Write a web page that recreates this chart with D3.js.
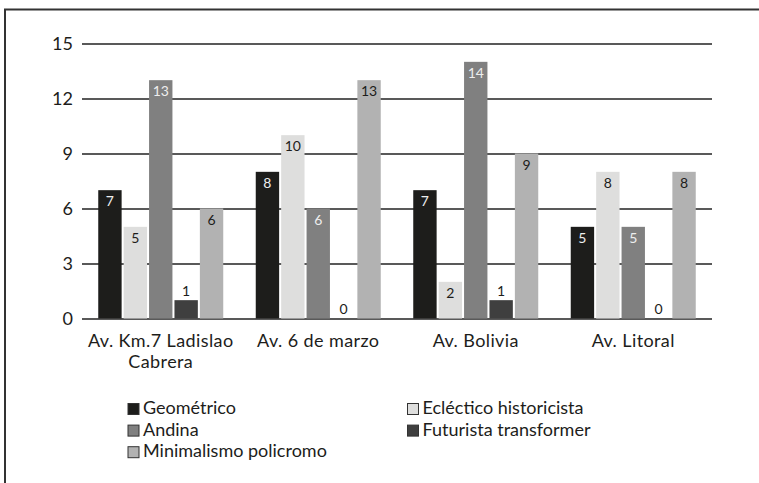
<!DOCTYPE html>
<meta charset="utf-8">
<style>
  body { margin: 0; background: #fff; }
  svg text { font-family: 'Lato', sans-serif; fill: #1d1d1b; }
</style>
<body>
<div id="viz"></div>
<script src="https://cdn.jsdelivr.net/npm/d3@7"></script>
<script>
// data
const categories = ["Av. Km.7 Ladislao Cabrera", "Av. 6 de marzo", "Av. Bolivia", "Av. Litoral"];
const seriesNames = ["Geométrico", "Ecléctico historicista", "Andina", "Futurista transformer", "Minimalismo policromo"];
const geometrico = [7, 8, 7, 5];
const eclectico = [5, 10, 2, 8];
const andina = [13, 6, 14, 5];
const futurista = [1, 0, 1, 0];
const minimalismo = [6, 13, 9, 8];
const yTicks = [0, 3, 6, 9, 12, 15];

const seriesValues = [geometrico, eclectico, andina, futurista, minimalismo];
const colors = ["#1d1d1b", "#dededd", "#808080", "#3f3f3f", "#b2b2b2"];
const labelColors = ["#eeeeee", "#1d1d1b", "#eeeeee", "#1d1d1b", "#1d1d1b"];

const W = 759, H = 483;
const margin = {top: 43.5, left: 82, right: 47, bottom: 164.5};

const svg = d3.select("#viz").append("svg")
    .attr("width", W)
    .attr("height", H);

// frame (only top and left edges fall inside the picture)
svg.append("rect")
    .attr("x", 5).attr("y", 9.5)
    .attr("width", W + 20).attr("height", H + 20)
    .attr("fill", "none")
    .attr("stroke", "#333")
    .attr("stroke-width", 2);

const x0 = d3.scaleBand()
    .domain(categories)
    .range([margin.left, W - margin.right]);

const groupW = 125;
const x1 = d3.scaleBand()
    .domain(seriesNames)
    .range([(x0.bandwidth() - groupW) / 2, (x0.bandwidth() + groupW) / 2])
    .paddingInner(0.08);

const y = d3.scaleLinear()
    .domain([0, 15])
    .range([H - margin.bottom, margin.top]);

// gridlines + tick labels
const yAxis = svg.append("g")
    .attr("transform", "translate(" + margin.left + ",0)")
    .call(d3.axisLeft(y).tickValues(yTicks).tickSize(-(W - margin.left - margin.right)).tickPadding(9));
yAxis.select(".domain").remove();
yAxis.selectAll(".tick line").attr("stroke", "#222").attr("stroke-width", 1.3);
yAxis.selectAll(".tick text")
    .style("font-size", "18px")
    .attr("fill", "#1d1d1b");

const rows = categories.map((c, i) => ({cat: c, vals: seriesNames.map((s, j) => ({s: s, j: j, v: seriesValues[j][i]}))}));

const groups = svg.selectAll(".grp")
    .data(rows)
    .enter().append("g")
    .attr("class", "grp")
    .attr("transform", d => "translate(" + x0(d.cat) + ",0)");

groups.selectAll("rect")
    .data(d => d.vals)
    .enter().append("rect")
    .attr("x", d => x1(d.s))
    .attr("y", d => y(d.v))
    .attr("width", x1.bandwidth())
    .attr("height", d => y(0) - y(d.v))
    .attr("fill", d => colors[d.j]);

// value labels: inside top of bar, except Futurista which sits above it
groups.selectAll(".val")
    .data(d => d.vals)
    .enter().append("text")
    .attr("class", "val")
    .attr("x", d => x1(d.s) + x1.bandwidth() / 2)
    .attr("y", d => d.j === 3 ? y(d.v) - 4.5 : y(d.v) + 16)
    .attr("text-anchor", "middle")
    .style("font-size", "14px")
    .style("fill", d => labelColors[d.j])
    .text(d => d.v);

// category labels, wrapped
const catLines = {"Av. Km.7 Ladislao Cabrera": ["Av. Km.7 Ladislao", "Cabrera"]};
const catText = svg.selectAll(".cat")
    .data(categories)
    .enter().append("text")
    .attr("class", "cat")
    .attr("text-anchor", "middle")
    .attr("x", d => x0(d) + x0.bandwidth() / 2)
    .attr("y", y(0) + 28)
    .style("font-size", "18px")
    .style("letter-spacing", "0.4px");
catText.each(function(d) {
  const lines = catLines[d] || [d];
  const t = d3.select(this);
  lines.forEach((l, i) => {
    t.append("tspan")
      .attr("x", x0(d) + x0.bandwidth() / 2)
      .attr("dy", i === 0 ? 0 : 21.5)
      .text(l);
  });
});

// legend, two columns
const legendCols = [127.5, 407];
const legendY = 414;
const legend = svg.selectAll(".leg")
    .data(seriesNames)
    .enter().append("g")
    .attr("class", "leg")
    .attr("transform", (d, i) => "translate(" + legendCols[i % 2] + "," + (legendY + Math.floor(i / 2) * 21.6) + ")");

legend.append("rect")
    .attr("x", 0.5).attr("y", -10.5)
    .attr("width", 11).attr("height", 11)
    .attr("fill", (d, i) => colors[i])
    .attr("stroke", "#333")
    .attr("stroke-width", 1);

legend.append("text")
    .attr("x", 15.5)
    .attr("y", 0)
    .style("font-size", "18px")
    .text(d => d);
</script>
</body>
